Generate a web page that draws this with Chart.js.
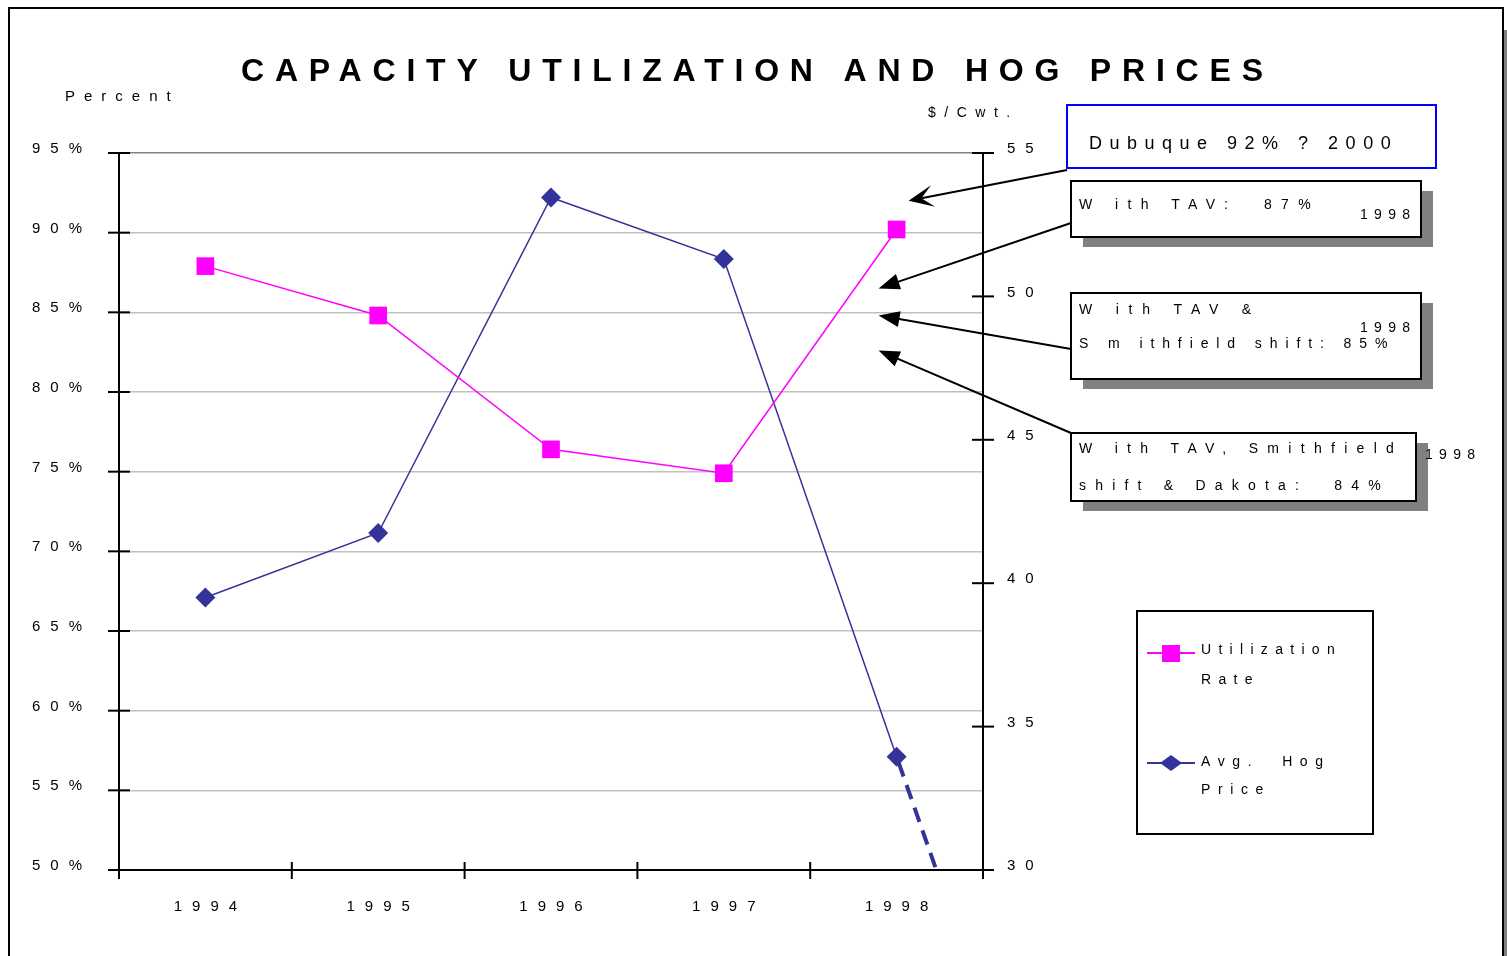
<!DOCTYPE html>
<html>
<head>
<meta charset="utf-8">
<title>Capacity Utilization and Hog Prices</title>
<script src="https://cdn.jsdelivr.net/npm/chart.js@4.4.1/dist/chart.umd.min.js"></script>
<style>
  html, body { margin: 0; padding: 0; background: #fff; overflow: hidden; }
  canvas { display: block; }
</style>
</head>
<body>
<canvas id="chart" width="1507" height="956"></canvas>
<script>
// DATA
const years = [1994, 1995, 1996, 1997, 1998];
const yearLabels = ['1994', '1995', '1996', '1997', '1998'];
const utilizationRate = [87.9, 84.8, 76.4, 74.9, 90.2];   // percent
const hogPrice = [39.5, 41.75, 53.45, 51.3, 33.95];         // $/Cwt.
const projYears = [1998, 1998.23];
const projPrice = [33.95, 30];
const pctTicks = [50, 55, 60, 65, 70, 75, 80, 85, 90, 95];
const priceTicks = [30, 35, 40, 45, 50, 55];
// where the callout arrows point (percent scale)
const calloutPct = [92, 86.5, 84.8, 82.6];

const PINK = '#ff00ff';
const NAVY = '#333399';
const FONT = '"Liberation Sans", Arial, sans-serif';

// text with letter spacing
const txt = (ctx, s, x, y, size, sp, align = 'left', bold = false) => {
  ctx.save();
  ctx.font = (bold ? 'bold ' : '') + size + 'px ' + FONT;
  ctx.letterSpacing = sp + 'px';
  ctx.fillStyle = '#000';
  ctx.textBaseline = 'middle';
  ctx.textAlign = 'left';
  const w = ctx.measureText(s).width - sp;
  let x0 = x;
  if (align === 'center') x0 = x - w / 2;
  if (align === 'right') x0 = x - w;
  ctx.fillText(s, x0, y + 2);
  ctx.restore();
};

const line = (ctx, x1, y1, x2, y2, color = '#000', w = 2) => {
  ctx.beginPath();
  ctx.moveTo(x1, y1);
  ctx.lineTo(x2, y2);
  ctx.strokeStyle = color;
  ctx.lineWidth = w;
  ctx.stroke();
};

const arrow = (ctx, x1, y1, x2, y2, stealth) => {
  const a = Math.atan2(y2 - y1, x2 - x1);
  const L = stealth ? 25 : 21, H = stealth ? 11 : 8;
  const back = stealth ? 13 : 18;
  line(ctx, x1, y1, x2 - Math.cos(a) * back, y2 - Math.sin(a) * back, '#000', 2);
  const px = (d, o) => [x2 - Math.cos(a) * d - Math.sin(a) * o, y2 - Math.sin(a) * d + Math.cos(a) * o];
  ctx.beginPath();
  ctx.moveTo(x2, y2);
  ctx.lineTo(...px(L, H));
  if (stealth) ctx.lineTo(...px(back, 0));
  ctx.lineTo(...px(L, -H));
  ctx.closePath();
  ctx.fillStyle = '#000';
  ctx.fill();
};

const box = (ctx, x, y, w, h, shadow, color = '#000') => {
  if (shadow) {
    ctx.fillStyle = '#808080';
    ctx.fillRect(x + 12, y + 10, w, h);
  }
  ctx.fillStyle = '#fff';
  ctx.fillRect(x, y, w, h);
  ctx.strokeStyle = color;
  ctx.lineWidth = 2;
  ctx.strokeRect(x, y, w, h);
};

const decor = {
  id: 'decor',
  beforeDraw(chart) {
    const ctx = chart.ctx;
    ctx.save();
    ctx.fillStyle = '#fff';
    ctx.fillRect(0, 0, chart.width, chart.height);
    ctx.restore();
  },
  afterDraw(chart) {
    const ctx = chart.ctx;
    const a = chart.chartArea;
    const x = chart.scales.x, y = chart.scales.y, y2 = chart.scales.y2;
    ctx.save();

    // outer frame
    ctx.fillStyle = '#808080';
    ctx.fillRect(1504, 30, 4, 930);
    ctx.strokeStyle = '#000';
    ctx.lineWidth = 2;
    ctx.strokeRect(9, 8, 1494, 960);

    // title + axis titles
    txt(ctx, 'CAPACITY UTILIZATION AND HOG PRICES', 752, 70, 32, 10.8, 'center', true);
    txt(ctx, 'Percent', 65, 95, 15, 9);
    txt(ctx, '$/Cwt.', 928, 111, 14, 8.5);

    // tick marks crossing the axes
    pctTicks.forEach(v => {
      const py = y.getPixelForValue(v);
      line(ctx, a.left - 11, py, a.left + 11, py);
      txt(ctx, v + '%', 82, py - 6, 15, 10, 'right');
    });
    priceTicks.forEach(v => {
      const py = y2.getPixelForValue(v);
      line(ctx, a.right - 11, py, a.right + 11, py);
      txt(ctx, String(v), 1007, py - 6, 15, 10);
    });
    for (let i = 0; i <= years.length; i++) {
      const px = x.getPixelForValue(years[0] - 0.5 + i);
      line(ctx, px, a.bottom - 8, px, a.bottom + 9);
    }
    years.forEach((yr, i) => {
      txt(ctx, yearLabels[i], x.getPixelForValue(yr), 905, 15, 10, 'center');
    });

    // callouts
    const tipX = x.getPixelForValue(1998);
    box(ctx, 1067, 105, 369, 63, false, '#0000ff');
    txt(ctx, 'Dubuque 92% ? 2000', 1089, 142, 18, 7.5);
    arrow(ctx, 1067, 170, tipX + 12, y.getPixelForValue(calloutPct[0]), true);

    box(ctx, 1071, 181, 350, 56, true);
    txt(ctx, 'W ith TAV:  87%', 1079, 203, 14, 9.4);
    txt(ctx, '1998', 1360, 213, 14, 6.3);
    arrow(ctx, 1071, 223, tipX - 18, y.getPixelForValue(calloutPct[1]), false);

    box(ctx, 1071, 293, 350, 86, true);
    txt(ctx, 'W ith TAV &', 1079, 308, 14, 9.8);
    txt(ctx, '1998', 1360, 326, 14, 6.3);
    txt(ctx, 'S m ithfield shift: 85%', 1079, 342, 14, 7.9);
    arrow(ctx, 1071, 349, tipX - 18, y.getPixelForValue(calloutPct[2]), false);

    box(ctx, 1071, 433, 345, 68, true);
    txt(ctx, 'W ith TAV, Smithfield', 1079, 447, 14, 9.3);
    txt(ctx, 'shift & Dakota:  84%', 1079, 484, 14, 9.2);
    txt(ctx, '1998', 1425, 453, 14, 6.3);
    arrow(ctx, 1071, 433, tipX - 18, y.getPixelForValue(calloutPct[3]), false);

    // legend
    box(ctx, 1137, 611, 236, 223, false);
    const ds = chart.data.datasets;
    line(ctx, 1147, 653, 1195, 653, ds[0].borderColor, 2);
    ctx.fillStyle = ds[0].pointBackgroundColor;
    ctx.fillRect(1162, 645, 18, 17);
    txt(ctx, 'Utilization', 1201, 648, 14, 7.3);
    txt(ctx, 'Rate', 1201, 678, 14, 7.3);
    line(ctx, 1147, 763, 1195, 763, ds[1].borderColor, 2);
    ctx.beginPath();
    ctx.moveTo(1160, 763); ctx.lineTo(1171, 755); ctx.lineTo(1182, 763); ctx.lineTo(1171, 771);
    ctx.closePath();
    ctx.fillStyle = ds[1].pointBackgroundColor;
    ctx.fill();
    txt(ctx, 'Avg.  Hog', 1201, 760, 14, 7.6);
    txt(ctx, 'Price', 1201, 788, 14, 7.6);

    ctx.restore();
  }
};

const toXY = (xs, ys) => xs.map((v, i) => ({ x: v, y: ys[i] }));

new Chart(document.getElementById('chart'), {
  type: 'line',
  data: {
    datasets: [
      {
        label: 'Utilization Rate',
        data: toXY(years, utilizationRate),
        yAxisID: 'y',
        borderColor: PINK,
        backgroundColor: PINK,
        pointBackgroundColor: PINK,
        pointBorderColor: PINK,
        borderWidth: 1.5,
        pointStyle: 'rect',
        pointRadius: 12.5,
        pointBorderWidth: 0,
        tension: 0
      },
      {
        label: 'Avg. Hog Price',
        data: toXY(years, hogPrice),
        yAxisID: 'y2',
        borderColor: NAVY,
        backgroundColor: NAVY,
        pointBackgroundColor: NAVY,
        pointBorderColor: NAVY,
        borderWidth: 1.5,
        pointStyle: 'rectRot',
        pointRadius: 10,
        pointBorderWidth: 0,
        tension: 0
      },
      {
        label: 'projection',
        data: toXY(projYears, projPrice),
        yAxisID: 'y2',
        borderColor: NAVY,
        borderWidth: 4,
        borderDash: [15, 9],
        borderDashOffset: -6,
        pointRadius: 0,
        clip: false
      }
    ]
  },
  options: {
    responsive: false,
    animation: false,
    devicePixelRatio: 1,
    layout: { padding: { top: 153, left: 0, right: 0, bottom: 0 } },
    plugins: {
      legend: { display: false },
      title: { display: false },
      tooltip: { enabled: false }
    },
    scales: {
      x: {
        type: 'linear',
        min: years[0] - 0.5,
        max: years[years.length - 1] + 0.5,
        ticks: { display: false },
        grid: { display: false },
        border: { color: '#000', width: 2 },
        afterFit: s => { s.height = 86; }
      },
      y: {
        position: 'left',
        min: 50,
        max: 95,
        ticks: { display: false, stepSize: 5 },
        grid: {
          drawTicks: false,
          color: c => (c.tick && c.tick.value === 95 ? '#808080' : '#c0c0c0'),
          lineWidth: 1.5
        },
        border: { color: '#000', width: 2 },
        afterFit: s => { s.width = 119; }
      },
      y2: {
        position: 'right',
        min: 30,
        max: 55,
        ticks: { display: false, stepSize: 5 },
        grid: { display: false },
        border: { color: '#000', width: 2 },
        afterFit: s => { s.width = 1507 - 983; }
      }
    }
  },
  plugins: [decor]
});
</script>
</body>
</html>
